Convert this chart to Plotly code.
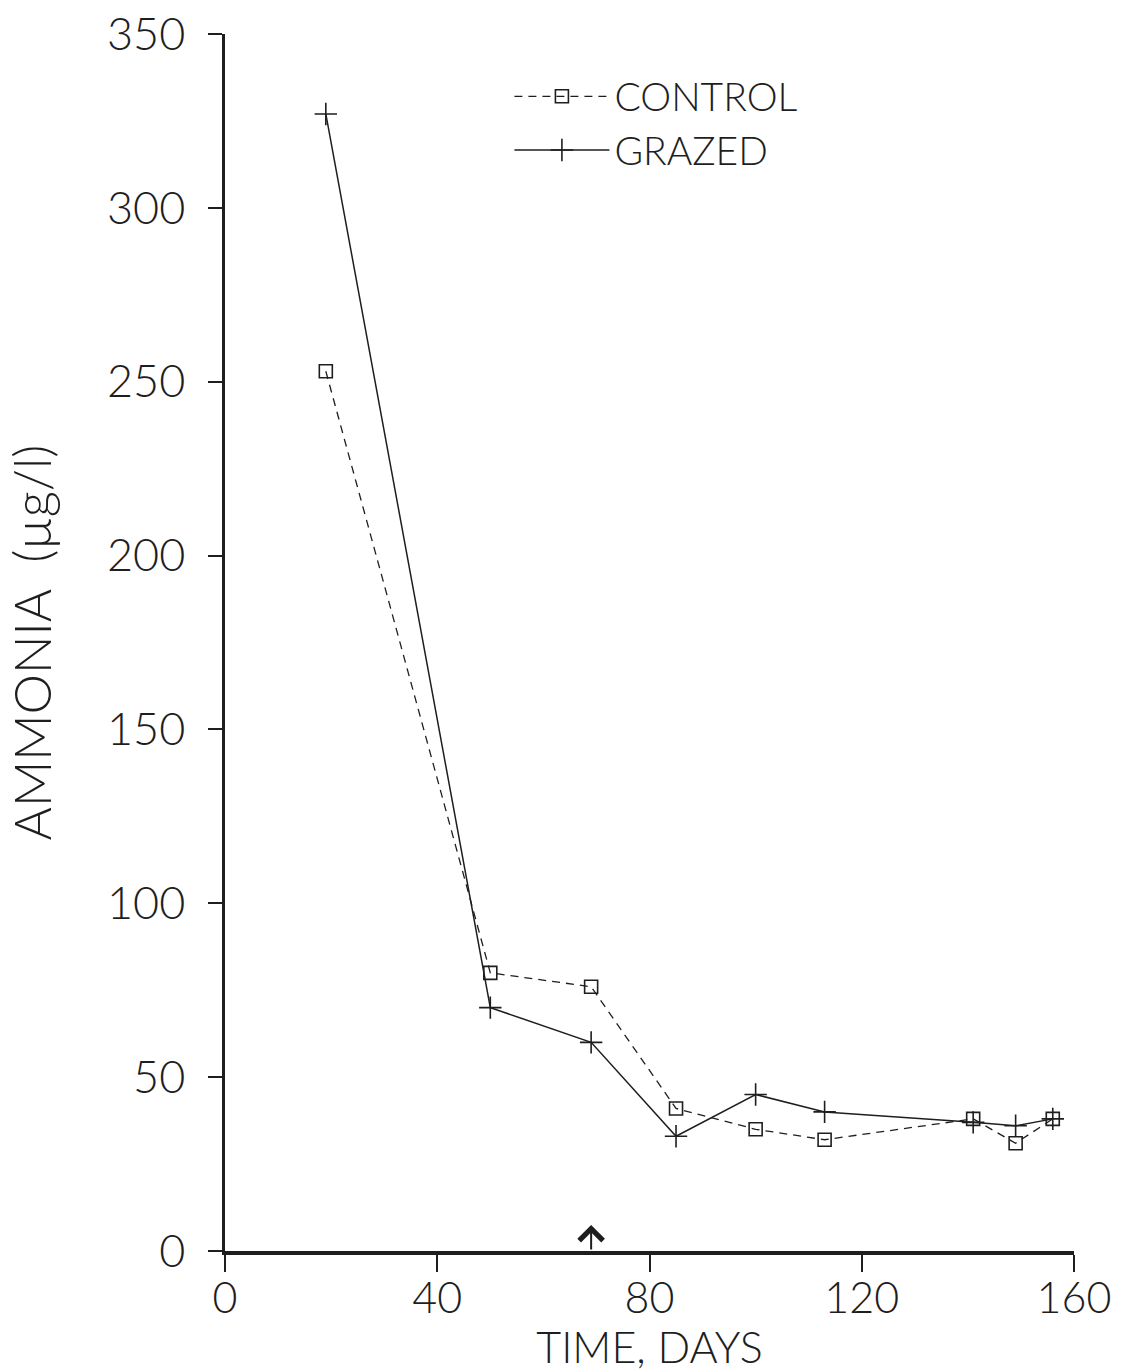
import plotly.graph_objects as go

# Data
days = [19, 50, 69, 85, 100, 113, 141, 149, 156]
control = [253, 80, 76, 41, 35, 32, 38, 31, 38]
grazed = [327, 70, 60, 33, 45, 40, 37, 36, 38]

x_ticks = [0, 40, 80, 120, 160]
y_ticks = [0, 50, 100, 150, 200, 250, 300, 350]
arrow_day = 69
arrow_top = 7.5

FONT = "Lato, DejaVu Sans, sans-serif"
INK = "#1e1e1e"

fig = go.Figure()
fig.add_trace(go.Scatter(
    x=days, y=control, name="CONTROL", mode="lines+markers",
    line=dict(color=INK, width=1.3, dash="8px,6px"),
    marker=dict(symbol="square-open", size=13, color=INK, line=dict(width=1.6)),
))
fig.add_trace(go.Scatter(
    x=days, y=grazed, name="GRAZED", mode="lines+markers",
    line=dict(color=INK, width=1.5),
    marker=dict(symbol="cross-thin-open", size=16, color=INK, line=dict(width=1.6)),
))

fig.add_annotation(x=arrow_day, y=arrow_top, xref="x", yref="y",
                   ax=arrow_day, ay=0, axref="x", ayref="y", text="",
                   showarrow=True, arrowhead=4, arrowsize=2.3, arrowwidth=2,
                   arrowcolor=INK, standoff=0, startstandoff=0)

fig.update_layout(
    width=1122, height=1372,
    margin=dict(l=225, r=48, t=34, b=121),
    paper_bgcolor="white", plot_bgcolor="white",
    font=dict(family=FONT, color=INK, size=40, weight=300),
    showlegend=True,
    legend=dict(x=0.335, y=0.975, xanchor="left", yanchor="top",
                font=dict(size=39, family=FONT, color=INK, weight=300),
                bgcolor="rgba(0,0,0,0)", itemwidth=95, tracegroupgap=0),
    xaxis=dict(range=[0, 160], tickvals=x_ticks, ticks="outside", ticklen=7,
               tickwidth=2, tickcolor=INK, showline=True, linewidth=3.5,
               linecolor=INK, showgrid=False, zeroline=False, automargin=False,
               minor=dict(tickvals=x_ticks, ticks="outside", ticklen=17,
                          tickwidth=2, tickcolor=INK, showgrid=False),
               tickfont=dict(size=43, weight=300),
               title=dict(text="TIME, DAYS", font=dict(size=43, weight=300), standoff=6)),
    yaxis=dict(range=[0, 350], tickvals=y_ticks, ticks="outside", ticklen=14,
               tickwidth=2, tickcolor=INK, showline=True, linewidth=2.5,
               linecolor=INK, showgrid=False, zeroline=False, automargin=False,
               ticklabelstandoff=14,
               tickfont=dict(size=45, weight=300),
               title=dict(text="AMMONIA  (µg/l)", font=dict(size=51, weight=300), standoff=40)),
)

fig.write_html("out.html")
